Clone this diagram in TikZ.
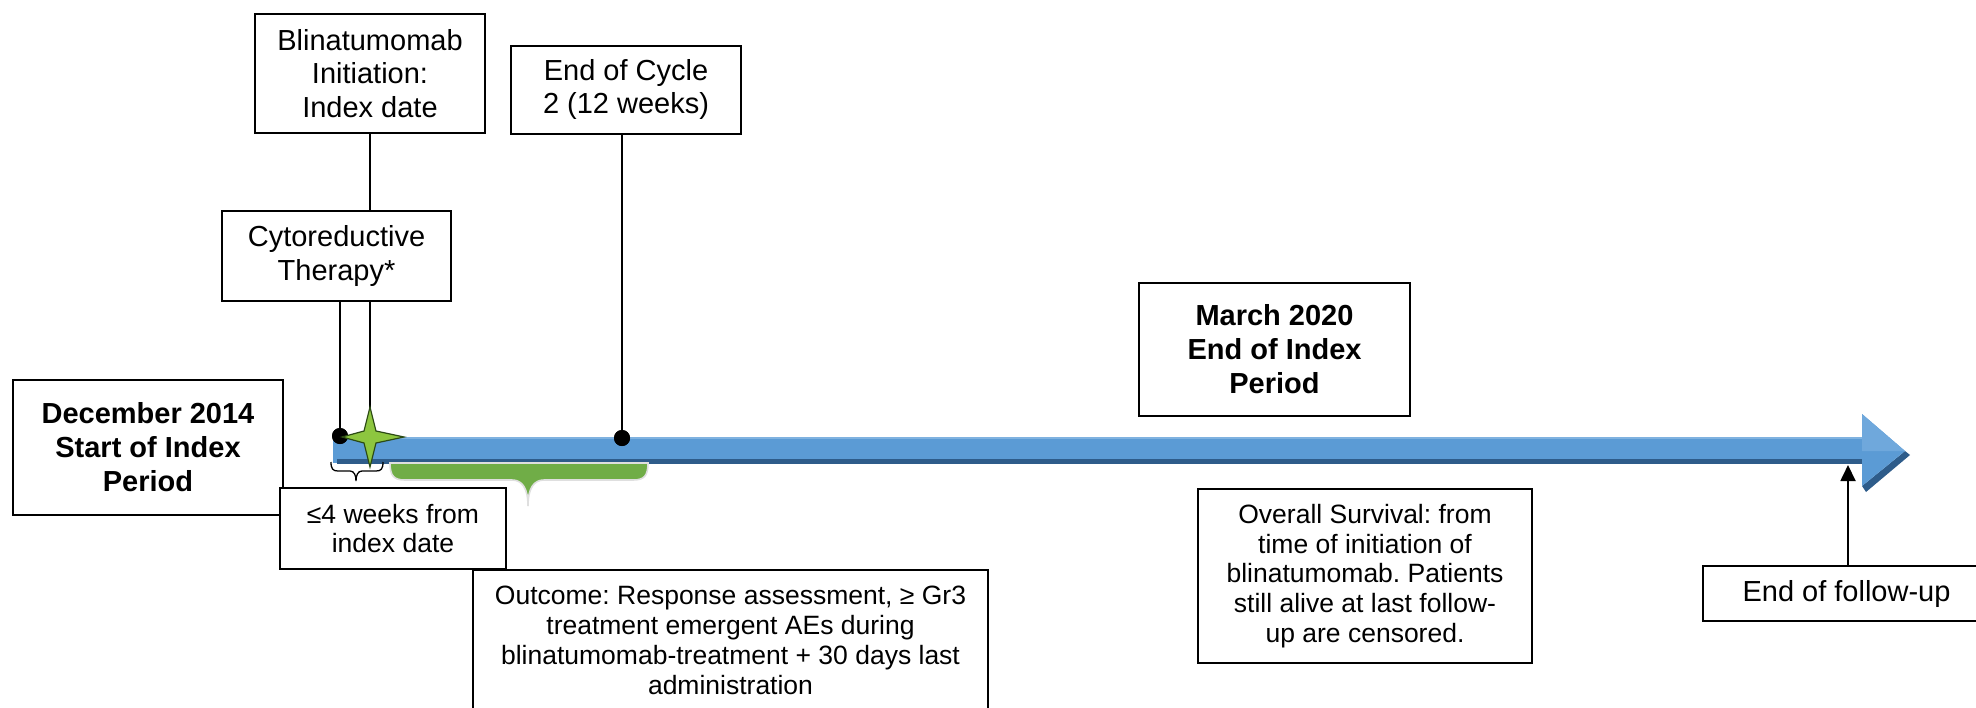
\documentclass[tikz,border=0pt]{standalone}
\usepackage{fontspec}
\setmainfont{Liberation Sans}
\usetikzlibrary{arrows.meta}
\definecolor{barblue}{HTML}{5B9BD5}
\definecolor{bardark}{HTML}{2E5C8A}
\definecolor{barlight}{HTML}{7FB2E0}
\definecolor{headlight}{HTML}{6FA8DC}
\definecolor{brgreen}{HTML}{70AD47}
\definecolor{stargreen}{HTML}{8DC63F}
\definecolor{stardark}{HTML}{2B4A14}
\begin{document}
\frenchspacing
\begin{tikzpicture}[x=1pt,y=-1pt,
  box/.style={draw=black, line width=2pt, fill=white, align=center, inner sep=0pt},
  bigtext/.style={font=\fontsize{29}{33.5}\selectfont},
  boldtext/.style={font=\fontsize{29}{34}\selectfont\bfseries},
  smalltext/.style={font=\fontsize{26.5}{29.8}\selectfont},
  conn/.style={line width=1.8pt, draw=black},
  dotnode/.style={circle, fill=black, draw=none, inner sep=0pt, minimum size=16pt},
  bracefill/.style={fill=brgreen, draw=gray!25, line width=1.6pt},
  starshape/.style={fill=stargreen, draw=stardark, line width=1.2pt, line join=miter}]
\useasboundingbox (0,0) rectangle (1976,707);

% ---- timeline bar ----
\fill[barblue] (333,437) rectangle (1866,463);
\fill[barlight] (333,437) rectangle (1866,438.5);
\fill[bardark] (337,459) rectangle (1866,464);
% arrow head
\fill[bardark] (1905,451) -- (1910,455) -- (1866,492) -- (1862,486) -- cycle;
\fill[barblue] (1862,414) -- (1905,451) -- (1862,486) -- cycle;
\fill[headlight] (1862,414) -- (1905,451) -- (1868,451) -- (1862,451) -- cycle;

% ---- braces ----
\path[bracefill] (390,463) .. controls (390,476) and (394,480) .. (405,480) -- (512,480)
  .. controls (522,480) and (528,488) .. (528,506)
  .. controls (528,488) and (534,480) .. (544,480) -- (633,480)
  .. controls (644,480) and (648,476) .. (648,463) -- cycle;
\draw[line width=1.3pt] (331,462) .. controls (331,469) and (333,471) .. (338,471) -- (350,471)
  .. controls (354,471) and (356,475) .. (356,481)
  .. controls (356,475) and (358,471) .. (362,471) -- (376,471)
  .. controls (381,471) and (383,469) .. (383,462);

% ---- boxes ----
\node[box, bigtext, minimum width=230, minimum height=119] (blina) at (370,73.5) {Blinatumomab\\Initiation:\\Index date};
\node[box, bigtext, minimum width=230, minimum height=88] (cycle) at (626,89.5) {End of Cycle\\2 (12 weeks)};
\node[box, bigtext, minimum width=229, minimum height=90] (cyto) at (336.5,256) {Cytoreductive\\Therapy*};
\node[box, boldtext, minimum width=270, minimum height=135] (dec) at (148,447.5) {December 2014\\Start of Index\\Period};
\node[box, boldtext, minimum width=271, minimum height=133] (march) at (1274.5,349.5) {March 2020\\End of Index\\Period};
\node[box, smalltext, minimum width=226, minimum height=81] (weeks) at (393,528.5) {≤4 weeks from\\index date};
\node[box, anchor=north, minimum width=515, minimum height=170] (outcome) at (730.5,569) {};
\node[smalltext, align=center, inner sep=0pt, anchor=north] (outtext) at (730.5,586) {Outcome: Response assessment, ≥ Gr3\\treatment emergent AEs during\\blinatumomab-treatment + 30 days last\\administration};
\node[box, smalltext, minimum width=334, minimum height=174] (surv) at (1365,576) {Overall Survival: from\\time of initiation of\\blinatumomab. Patients\\still alive at last follow-\\up are censored.};
\node[box, bigtext, minimum width=287, minimum height=55] (follow) at (1846.5,593.5) {End of follow-up};

% ---- markers ----
\node[dotnode] (dot1) at (340,436) {};
\node[dotnode] (dot2) at (622,438) {};
\coordinate (star) at (370,437);
\coordinate (ftip) at (1848,465);

% ---- connectors ----
\draw[conn] (blina.south) -- (blina.south |- cyto.north);
\draw[conn] (cyto.south -| dot1) -- (dot1.center);
\draw[conn] (cyto.south -| star) -- (star);
\draw[conn] (cycle.south -| dot2) -- (dot2.center);
\draw[conn, -{Triangle[length=16pt,width=15pt]}] (follow.north -| ftip) -- (ftip);

% redraw dots on top of lines
\fill (dot1) circle (8);
\fill (dot2) circle (8);

% ---- star ----
\path[starshape] (370,407) -- (376,431) -- (404,437) -- (376,443) -- (370,467)
  -- (364,443) -- (342,437) -- (364,431) -- cycle;
\end{tikzpicture}
\end{document}
